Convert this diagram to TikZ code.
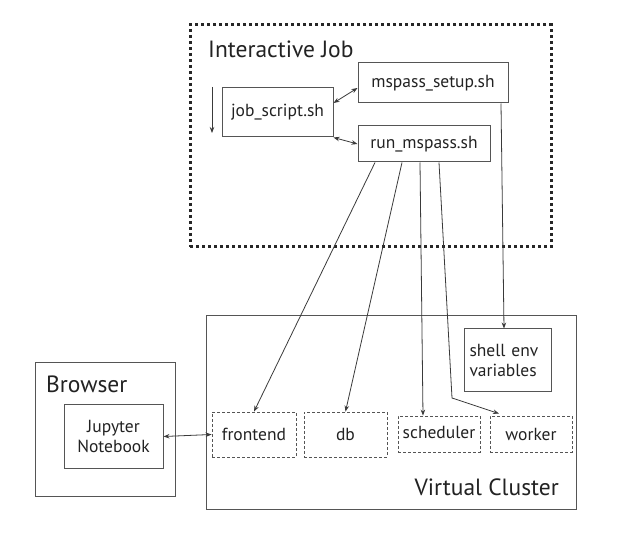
\documentclass[tikz,border=0pt]{standalone}
\usepackage{fontspec}
\setmainfont{PT Sans}
\usetikzlibrary{arrows.meta,calc}
\definecolor{ln}{HTML}{3A3A3A}
\definecolor{bx}{HTML}{555555}
\definecolor{tx}{HTML}{222222}
\begin{document}
\begin{tikzpicture}[x=1pt,y=-1pt,
  box/.style={draw=bx,line width=1pt,rectangle,inner sep=0pt,text=tx,font=\fontsize{17.5}{20}\selectfont},
  dbox/.style={draw=bx,line width=0.8pt,dash pattern=on 3pt off 2pt,rectangle,inner sep=0pt,text=tx,font=\fontsize{17.5}{20}\selectfont},
  dotbox/.style={draw=black!85,line width=3pt,dash pattern=on 3pt off 3pt,rectangle,inner sep=0pt},
  title/.style={font=\fontsize{23.5}{26}\selectfont,inner sep=0pt,text=tx},
  conn/.style={draw=ln,line width=0.8pt,-{Stealth[length=6pt,width=4.5pt]}},
  dconn/.style={draw=ln,line width=0.8pt,{Stealth[length=6pt,width=4.5pt]}-{Stealth[length=6pt,width=4.5pt]}}]
\useasboundingbox (0,0) rectangle (627,537);
% Interactive job
\node (ij) [dotbox,minimum width=361pt,minimum height=222pt] at (370.5,136) {};
\node (ijt) [title,anchor=base west] at (208,58) {Interactive Job};
\node (mss) [box,minimum width=150pt,minimum height=40pt] at (433,83) {mspass\_setup.sh};
\node (js) [box,minimum width=111pt,minimum height=49pt] at (277.5,112.5) {job\_script.sh};
\node (rm) [box,minimum width=132pt,minimum height=36pt] at (424,144) {run\_mspass.sh};
\coordinate (ta) at (212,87);
\coordinate (tb) at (212,133);
\draw[conn] (ta) -- (tb);
\draw[dconn] ([yshift=9.5pt]js.east) -- ([yshift=-5pt]mss.west);
\draw[dconn] (js.south east) -- (rm.west);
% Virtual cluster
\node (vc) [box,minimum width=370pt,minimum height=193pt] at (391,412.5) {};
\node (vct) [title,anchor=base east] at (559,495) {Virtual Cluster};
\node (se) [box,minimum width=87pt,minimum height=63pt,align=left,text width=76pt] at (507.5,360.5) {shell env\\variables};
\node (fe) [dbox,minimum width=84pt,minimum height=45pt] at (254,434.5) {frontend};
\node (db) [dbox,minimum width=83pt,minimum height=45pt] at (345.5,434.5) {db};
\node (sc) [dbox,minimum width=82pt,minimum height=36pt] at (439,434) {\raisebox{3pt}{scheduler}};
\node (wk) [dbox,minimum width=82pt,minimum height=36pt] at (531,434) {worker};
% Browser
\node (br) [box,minimum width=140pt,minimum height=133pt] at (105,429.5) {};
\node (brt) [title,anchor=base west] at (46,393) {Browser};
\node (jn) [box,minimum width=99pt,minimum height=63pt,align=center] at (113.5,436.5) {Jupyter\\Notebook};
% connectors
\draw[conn] ([xshift=-49pt]rm.south) -- (fe.north);
\draw[conn] ([xshift=-22pt]rm.south) -- (db.north);
\draw[conn] ([xshift=-4pt]rm.south) -- ([xshift=-16pt]sc.north);
\coordinate (bend) at (452,398);
\draw[conn] ([xshift=15pt]rm.south) -- (bend) -- ([xshift=-32pt,yshift=2pt]wk.north);
\draw[conn] ([xshift=68pt]mss.south) -- ([xshift=-3.5pt]se.north);
\draw[dconn] (jn.east) -- (fe.west);
\end{tikzpicture}
\end{document}
